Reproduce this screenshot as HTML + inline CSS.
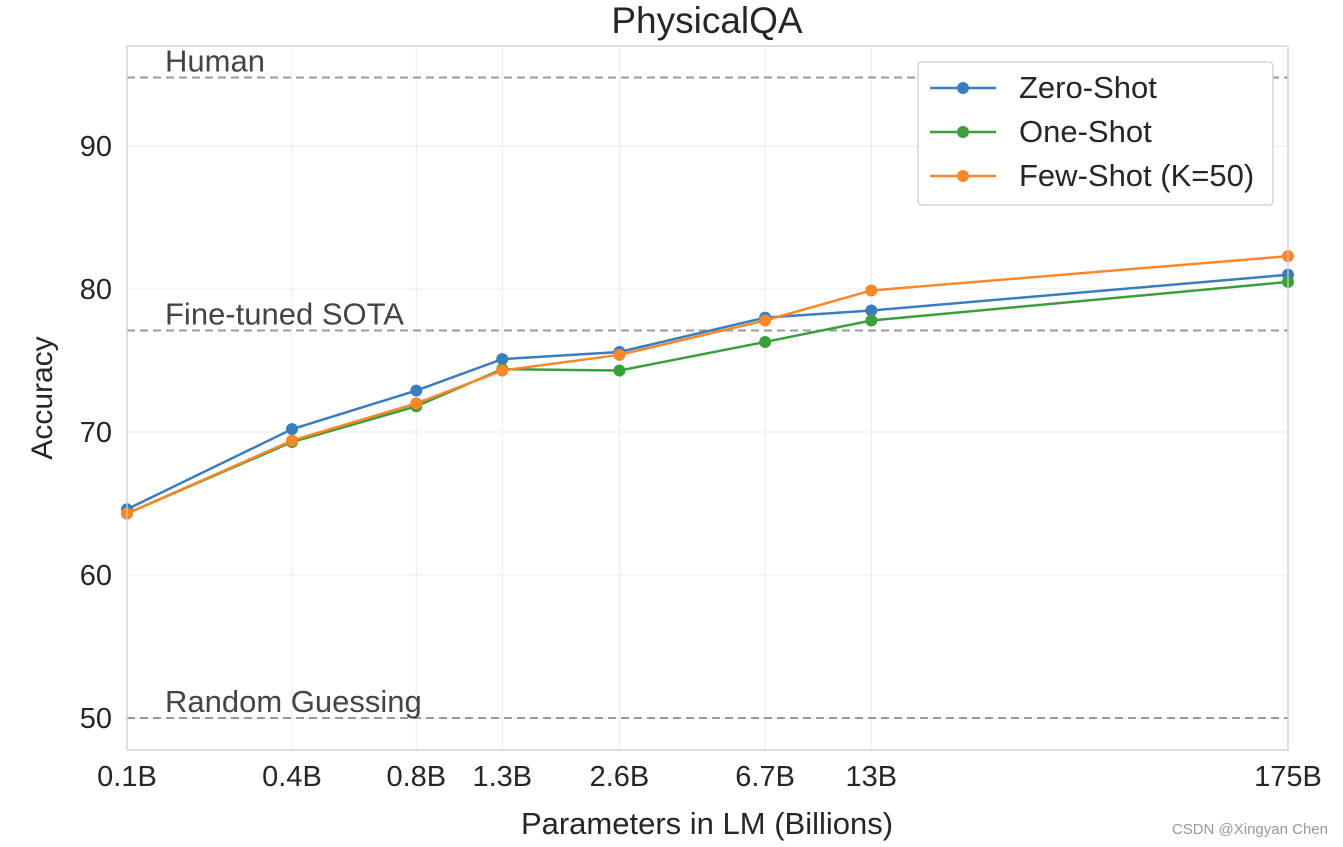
<!DOCTYPE html>
<html><head><meta charset="utf-8"><style>
body{margin:0;background:#fff;}
svg{display:block;font-family:"Liberation Sans",Arial,sans-serif;}
</style></head><body>
<svg id="chart" width="1343" height="847" viewBox="0 0 1343 847">
<text x="707" y="33" font-size="37" text-anchor="middle" fill="#262626">PhysicalQA</text>
<g id="grid"></g>
<g id="refs"></g>
<g id="series"></g>
<rect x="127" y="46" width="1161" height="704" fill="none" stroke="#cccccc" stroke-width="1.3"/>
<g id="ticks"></g>
<text x="707" y="834" font-size="31" text-anchor="middle" fill="#262626">Parameters in LM (Billions)</text>
<text transform="translate(52,398) rotate(-90)" font-size="30" text-anchor="middle" fill="#262626">Accuracy</text>
<g>
<rect x="918" y="62" width="355" height="143" rx="4" fill="#fff" stroke="#cccccc" stroke-width="1.3"/>
<g id="legend"></g>
</g>
<text x="1328" y="834" font-size="15" text-anchor="end" fill="#999">CSDN @Xingyan Chen</text>
</svg>
<script>
const params = [0.125, 0.35, 0.76, 1.3, 2.7, 6.7, 13, 175];
const tickLabels = ["0.1B","0.4B","0.8B","1.3B","2.6B","6.7B","13B","175B"];
const zeroShot = [64.6, 70.2, 72.9, 75.1, 75.6, 78.0, 78.5, 81.0];
const oneShot = [64.3, 69.3, 71.8, 74.4, 74.3, 76.3, 77.8, 80.5];
const fewShot = [64.3, 69.4, 72.0, 74.3, 75.4, 77.8, 79.9, 82.3];
const yTicks = [50, 60, 70, 80, 90];
const refValues = [94.8, 77.1, 50];
const refLabels = ["Human", "Fine-tuned SOTA", "Random Guessing"];
const seriesNames = ["Zero-Shot", "One-Shot", "Few-Shot (K=50)"];

const NS = "http://www.w3.org/2000/svg";
const L=127,R=1288,T=46,B=750;
const xMin=Math.log10(params[0]), xMax=Math.log10(params[params.length-1]);
const yMin=47.76, yMax=97.0;
function xs(v){return L+(Math.log10(v)-xMin)/(xMax-xMin)*(R-L);}
function ys(v){return B-(v-yMin)/(yMax-yMin)*(B-T);}
function mk(tag,attrs,parent,text){const e=document.createElementNS(NS,tag);for(const k in attrs)e.setAttribute(k,attrs[k]);if(text!==undefined)e.textContent=text;parent.appendChild(e);return e;}
const grid=document.getElementById('grid'),ticks=document.getElementById('ticks'),refs=document.getElementById('refs'),ser=document.getElementById('series'),leg=document.getElementById('legend');
params.forEach((p,i)=>{
  const l=mk('line',{x1:xs(p),x2:xs(p),y1:T,y2:B,stroke:'#ebebeb','stroke-width':1},grid);
  
  
  const t=mk('text',{x:xs(p),y:786,'font-size':29,'text-anchor':'middle',fill:'#262626'},ticks,tickLabels[i]);
  
  
});
yTicks.forEach(v=>{
  const l=mk('line',{x1:L,x2:R,y1:ys(v),y2:ys(v),stroke:'#ebebeb','stroke-width':1},grid);
  
  
  const t=mk('text',{x:112,y:ys(v)+10,'font-size':29,'text-anchor':'end',fill:'#262626'},ticks,v);
  
  
});
refValues.forEach((v,i)=>{
  const l=mk('line',{x1:L,x2:R,y1:ys(v),y2:ys(v),stroke:'#999','stroke-width':2,'stroke-dasharray':'8,5'},refs);
  
  
  const t=mk('text',{x:165,y:ys(v)-6,'font-size':31,fill:'#444'},refs,refLabels[i]);
  
  
});
const data=[zeroShot,oneShot,fewShot], colors=['#3a7dbf','#3a9e3a','#fb8728'];
data.forEach((d,si)=>{
  const g=mk('g',{},ser);
  
  
  const pl=mk('polyline',{points:d.map((v,i)=>xs(params[i])+','+ys(v)).join(' '),fill:'none',stroke:colors[si],'stroke-width':2.5},g);
  
  
  d.forEach((v,i)=>{
    const c=mk('circle',{cx:xs(params[i]),cy:ys(v),r:6,fill:colors[si]},g);
    
    
  });
  const yy=88+si*44;
  const ll=mk('line',{x1:930,x2:996,y1:yy,y2:yy,stroke:colors[si],'stroke-width':2.5},leg);
  
  
  const lc=mk('circle',{cx:963,cy:yy,r:6,fill:colors[si]},leg);
  
  
  const lt=mk('text',{x:1019,y:yy+10,'font-size':31,fill:'#262626'},leg,seriesNames[si]);
  
  
});
</script>
</body></html>
